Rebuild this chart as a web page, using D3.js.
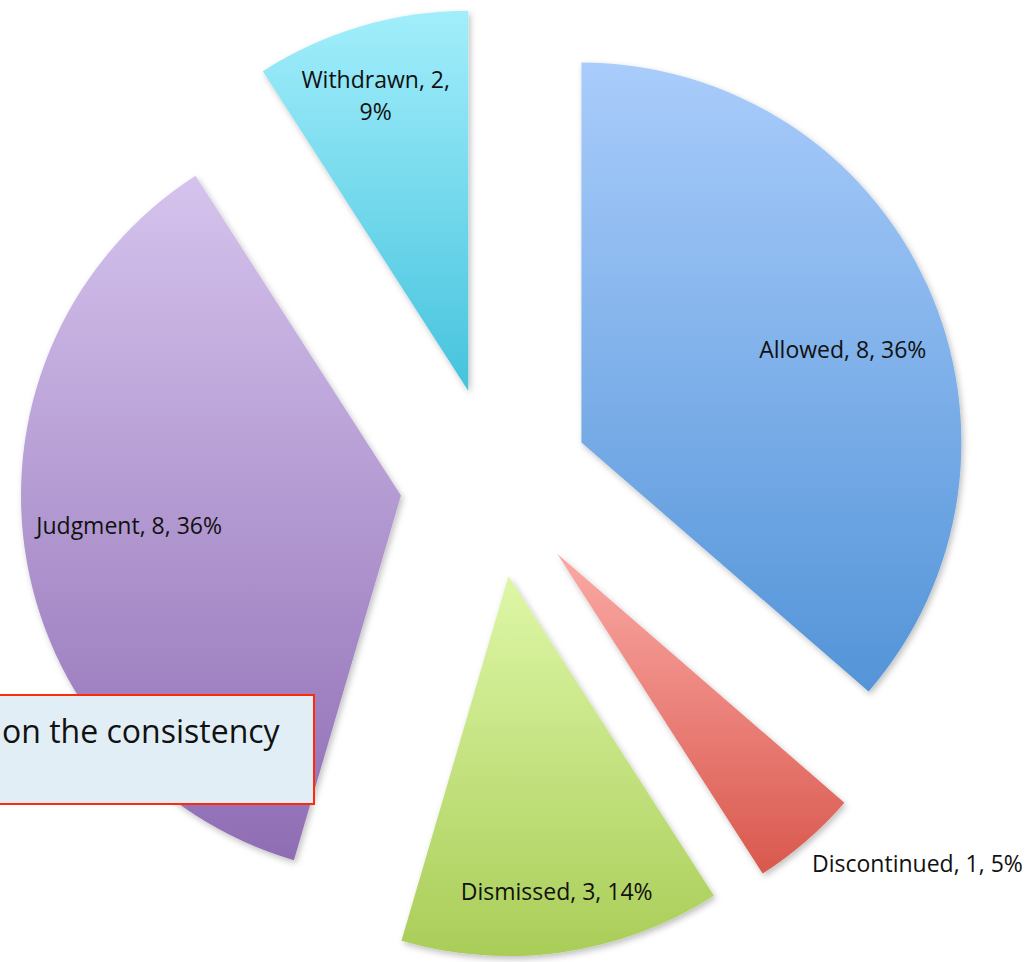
<!DOCTYPE html>
<html lang="en">
  <head>
    <meta charset="utf-8">
    <script src="https://d3js.org/d3.v7.min.js"></script>
    <style>
      body {margin: 0; background: white;}
      text {font-family: "Open Sans", Lato, sans-serif; fill: #111;}
    </style>
  </head>
  <body>
    <script type="text/javascript">
      // chart data
      const categories = ["Allowed", "Discontinued", "Dismissed", "Judgment", "Withdrawn"];
      const counts = [8, 1, 3, 8, 2];
      const percents = ["36%", "5%", "14%", "36%", "9%"];
      const topColors = ["#a9ccfb", "#fba9a5", "#def7a7", "#d5c3ed", "#a2eefb"];
      const bottomColors = ["#5394d8", "#d9584d", "#a9cd58", "#8f6db4", "#45c3dd"];

      // size constants
      const w = 1030;
      const h = 962;
      const cx = 495;
      const cy = 482;
      const radius = 380;
      const explode = 95;
      const fontSize = 23;

      // label placement: fraction of radius and angle nudge (degrees)
      const labelRadius = [0.73, 1.0, 0.84, 0.72, 0.79];
      const labelNudge = [5, 0, -0.5, 1.7, -1.6];

      const svg = d3.select("body")
        .append("svg")
        .attr("width", w)
        .attr("height", h);

      const defs = svg.append("defs");

      // soft shadow like the office chart
      const shadow = defs.append("filter")
        .attr("id", "shadow")
        .attr("x", "-10%").attr("y", "-10%")
        .attr("width", "130%").attr("height", "130%");
      shadow.append("feDropShadow")
        .attr("dx", 2).attr("dy", 3)
        .attr("stdDeviation", 3)
        .attr("flood-color", "#000")
        .attr("flood-opacity", 0.25);

      // one vertical gradient per slice
      categories.forEach(function(c, i) {
        const g = defs.append("linearGradient")
          .attr("id", "grad" + i)
          .attr("x1", 0).attr("y1", 0)
          .attr("x2", 0).attr("y2", 1);
        g.append("stop").attr("offset", "0%").attr("stop-color", topColors[i]);
        g.append("stop").attr("offset", "100%").attr("stop-color", bottomColors[i]);
      });

      const pie = d3.pie().sort(null).value(function(d) { return d; });
      const arcs = pie(counts);

      const arc = d3.arc().innerRadius(0).outerRadius(radius);

      // offset of each slice away from the centre
      function shift(d, dist) {
        const a = (d.startAngle + d.endAngle) / 2;
        return [Math.sin(a) * dist, -Math.cos(a) * dist];
      }

      const slices = svg.append("g")
        .attr("transform", "translate(" + cx + "," + cy + ")");

      slices.selectAll("path")
        .data(arcs)
        .enter()
        .append("path")
        .attr("d", arc)
        .attr("transform", function(d) {
          const s = shift(d, explode);
          return "translate(" + s[0] + "," + s[1] + ")";
        })
        .attr("fill", function(d, i) { return "url(#grad" + i + ")"; })
        .attr("filter", "url(#shadow)");

      // labels
      const labels = slices.selectAll("g.label")
        .data(arcs)
        .enter()
        .append("g")
        .attr("class", "label");

      labels.each(function(d, i) {
        const g = d3.select(this);
        const s = shift(d, explode);
        const a = (d.startAngle + d.endAngle) / 2 + labelNudge[i] * Math.PI / 180;
        const r = radius * labelRadius[i];
        const x = s[0] + Math.sin(a) * r;
        const y = s[1] - Math.cos(a) * r;
        const txt = categories[i] + ", " + counts[i] + ", " + percents[i];
        if (d.endAngle - d.startAngle < 0.4) {
          // narrow slice: label sits outside, past the arc
          g.append("text")
            .attr("x", x + 6)
            .attr("y", y + 31)
            .attr("font-size", fontSize)
            .text(txt);
        }
        else if (categories[i] == "Withdrawn") {
          const t = g.append("text")
            .attr("text-anchor", "middle")
            .attr("font-size", fontSize);
          t.append("tspan").attr("x", x).attr("y", y - 17).text(categories[i] + ", " + counts[i] + ",");
          t.append("tspan").attr("x", x).attr("y", y + 15).text(percents[i]);
        }
        else {
          g.append("text")
            .attr("x", x)
            .attr("y", y + 8)
            .attr("text-anchor", "middle")
            .attr("font-size", fontSize)
            .text(txt);
        }
      });

      // overlapping text box from the slide
      svg.append("rect")
        .attr("x", -10)
        .attr("y", 695)
        .attr("width", 324)
        .attr("height", 109)
        .attr("fill", "#e1eef6")
        .attr("stroke", "#ff2a0a")
        .attr("stroke-width", 2);
      svg.append("text")
        .attr("x", 2)
        .attr("y", 743)
        .attr("font-size", 32)
        .text("on the consistency");
    </script>
  </body>
</html>
